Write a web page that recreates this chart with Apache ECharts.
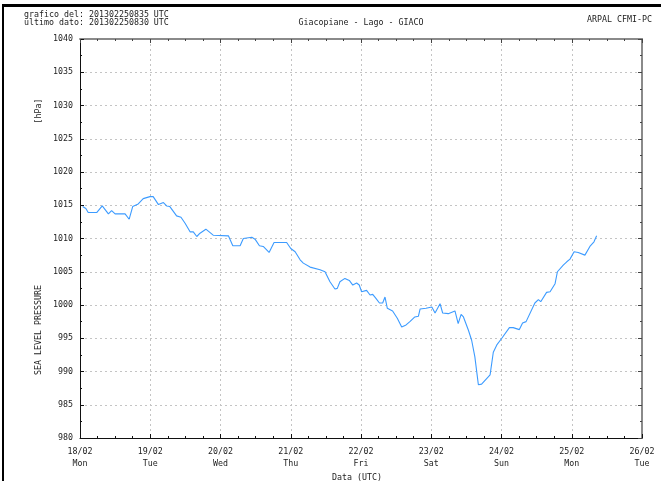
<!DOCTYPE html>
<html>
<head>
<meta charset="utf-8">
<script src="https://cdn.jsdelivr.net/npm/echarts@6/dist/echarts.min.js"></script>
<style>
  html, body { margin: 0; padding: 0; background: #fff; }
  #chart { width: 661px; height: 481px; }
</style>
</head>
<body>
<div id="chart"></div>
<script>
// Hours elapsed since 18/02/2013 00:00 UTC
const hours = [
  0.9, 2.0, 2.8, 5.7, 7.6, 9.7, 10.8, 12.0, 15.4, 16.8, 18.0, 19.9, 21.6, 23.9,
  25.0, 26.8, 28.5, 29.6, 30.7, 33.0, 34.5, 35.9, 37.6, 38.7, 39.9, 41.0, 43.0,
  45.5, 50.7, 52.2, 54.7, 55.8, 58.7, 59.8, 61.3, 62.6, 64.6, 66.3, 70.6, 72.0,
  73.5, 75.2, 76.3, 78.6, 82.0, 83.7, 85.4, 87.1, 87.9, 88.8, 90.5, 92.0, 93.2,
  94.5, 95.4, 96.2, 97.9, 99.1, 100.0, 101.1, 102.3, 103.4, 104.2, 105.0, 106.8,
  108.4, 109.9, 111.4, 112.7, 114.4, 115.6, 116.2, 118.2, 120.2, 121.3, 123.0,
  123.9, 125.8, 128.1, 129.2, 130.2, 131.0, 132.7, 133.8, 134.9, 136.1, 137.2,
  140.1, 141.2, 142.4, 144.1, 146.7, 148.0, 150.1, 151.2, 152.4, 155.4, 156.6,
  157.4, 159.4, 160.6, 162.3, 163.1, 165.1, 166.3, 167.4, 168.8, 170.2, 172.5,
  174.2, 175.6, 176.5
];

// Sea level pressure, hPa
const pressure = [
  1014.8, 1014.5, 1013.9, 1013.9, 1014.9, 1013.7, 1014.2, 1013.7, 1013.7, 1012.9,
  1014.8, 1015.2, 1016.0, 1016.3, 1016.3, 1015.1, 1015.4, 1014.9, 1014.8, 1013.4,
  1013.2, 1012.3, 1011.0, 1011.0, 1010.3, 1010.8, 1011.4, 1010.5, 1010.4, 1008.9,
  1008.9, 1010.0, 1010.2, 1009.9, 1008.9, 1008.8, 1007.9, 1009.4, 1009.4, 1008.5,
  1008.0, 1006.8, 1006.3, 1005.7, 1005.3, 1005.0, 1003.5, 1002.4, 1002.5, 1003.5,
  1004.0, 1003.7, 1003.0, 1003.3, 1003.0, 1002.0, 1002.2, 1001.5, 1001.6, 1001.0,
  1000.3, 1000.3, 1001.2, 999.5, 999.1, 998.0, 996.7, 997.0, 997.5, 998.2,
  998.3, 999.4, 999.5, 999.7, 998.8, 1000.2, 998.8, 998.7, 999.1, 997.2,
  998.6, 998.2, 996.2, 994.7, 992.2, 988.0, 988.1, 989.5, 992.9, 994.0,
  995.0, 996.6, 996.6, 996.3, 997.3, 997.5, 1000.3, 1000.8, 1000.5, 1001.9,
  1002.0, 1003.2, 1005.0, 1006.0, 1006.5, 1006.9, 1008.0, 1007.9, 1007.5, 1008.8,
  1009.5, 1010.4
];

// Day labels for the x axis, one per 24 h
const dayLabels = [
  '18/02\nMon', '19/02\nTue', '20/02\nWed', '21/02\nThu', '22/02\nFri',
  '23/02\nSat', '24/02\nSun', '25/02\nMon', '26/02\nTue'
];

const FONT = '"DejaVu Sans Mono", monospace';
const FS = 8.3;

const chart = echarts.init(document.getElementById('chart'), null, { renderer: 'canvas' });

const series = hours.map((h, i) => [h, pressure[i]]);

const gridLine = { show: true, lineStyle: { color: '#c4c4c4', type: [2, 3], width: 1 } };

chart.setOption({
  animation: false,
  backgroundColor: '#ffffff',
  grid: { left: 80, right: 19, top: 39, bottom: 43, containLabel: false },
  xAxis: [
    {
      type: 'value', position: 'bottom',
      min: 0, max: 192, interval: 24,
      axisLine: { show: true, onZero: false, lineStyle: { color: '#111', width: 1 } },
      axisTick: { show: true, inside: true, length: 4, lineStyle: { color: '#111' } },
      minorTick: { show: true, splitNumber: 4, length: 2, lineStyle: { color: '#111' } },
      splitLine: gridLine,
      axisLabel: {
        margin: 8, fontFamily: FONT, fontSize: FS, color: '#222', lineHeight: 12,
        formatter: v => dayLabels[Math.round(v / 24)] || ''
      }
    },
    {
      type: 'value', position: 'top',
      min: 0, max: 192, interval: 24,
      axisLine: { show: true, onZero: false, lineStyle: { color: '#8a8a8a', width: 2 } },
      axisTick: { show: true, inside: true, length: 4, lineStyle: { color: '#444' } },
      minorTick: { show: true, splitNumber: 4, length: 2, lineStyle: { color: '#444' } },
      splitLine: { show: false },
      axisLabel: { show: false }
    }
  ],
  yAxis: [
    {
      type: 'value', position: 'left',
      min: 980, max: 1040, interval: 5,
      axisLine: { show: true, onZero: false, lineStyle: { color: '#111', width: 1 } },
      axisTick: { show: true, inside: true, length: 4, lineStyle: { color: '#111' } },
      minorTick: { show: true, splitNumber: 2, length: 2, lineStyle: { color: '#111' } },
      splitLine: gridLine,
      axisLabel: { margin: 7, fontFamily: FONT, fontSize: FS, color: '#222', formatter: v => String(v) }
    },
    {
      type: 'value', position: 'right',
      min: 980, max: 1040, interval: 5,
      axisLine: { show: true, onZero: false, lineStyle: { color: '#8a8a8a', width: 2 } },
      axisTick: { show: true, inside: true, length: 4, lineStyle: { color: '#444' } },
      minorTick: { show: true, splitNumber: 2, length: 2, lineStyle: { color: '#444' } },
      splitLine: { show: false },
      axisLabel: { show: false }
    }
  ],
  series: [{
    type: 'line',
    xAxisIndex: 0, yAxisIndex: 0,
    data: series,
    showSymbol: false,
    symbol: 'none',
    lineStyle: { color: '#3c9bff', width: 1.1 }
  }],
  graphic: [
    // outer frame
    { type: 'rect', shape: { x: 2, y: 4, width: 661, height: 3 }, style: { fill: '#000' }, silent: true },
    { type: 'rect', shape: { x: 2, y: 4, width: 2, height: 480 }, style: { fill: '#000' }, silent: true },
    // header texts
    { type: 'text', x: 24, y: 15, style: { text: 'grafico del: 201302250835 UTC', font: `${FS}px ${FONT}`, fill: '#222', textVerticalAlign: 'middle' } },
    { type: 'text', x: 24, y: 23, style: { text: 'ultimo dato: 201302250830 UTC', font: `${FS}px ${FONT}`, fill: '#222', textVerticalAlign: 'middle' } },
    { type: 'text', x: 361, y: 22.5, style: { text: 'Giacopiane - Lago - GIACO', font: `${FS}px ${FONT}`, fill: '#222', textAlign: 'center', textVerticalAlign: 'middle' } },
    { type: 'text', x: 652, y: 20, style: { text: 'ARPAL CFMI-PC', font: `${FS}px ${FONT}`, fill: '#222', textAlign: 'right', textVerticalAlign: 'middle' } },
    // axis titles
    { type: 'text', x: 39, y: 111, rotation: Math.PI / 2, style: { text: '[hPa]', font: `${FS}px ${FONT}`, fill: '#222', textAlign: 'center', textVerticalAlign: 'middle' } },
    { type: 'text', x: 39, y: 330, rotation: Math.PI / 2, style: { text: 'SEA LEVEL PRESSURE', font: `${FS}px ${FONT}`, fill: '#222', textAlign: 'center', textVerticalAlign: 'middle' } },
    { type: 'text', x: 357, y: 478, style: { text: 'Data (UTC)', font: `${FS}px ${FONT}`, fill: '#222', textAlign: 'center', textVerticalAlign: 'middle' } }
  ]
});
</script>
</body>
</html>
